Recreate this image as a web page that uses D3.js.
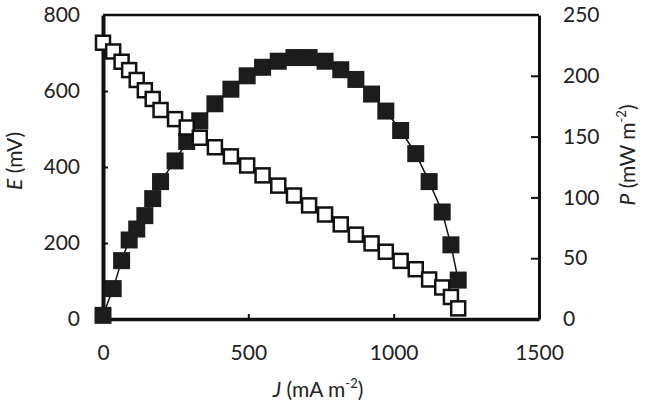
<!DOCTYPE html>
<html>
<head>
<meta charset="utf-8">
<script src="https://cdn.jsdelivr.net/npm/d3@7"></script>
<style>
  body { margin: 0; background: #fff; }
  text { font-family: Lato, "Open Sans", sans-serif; fill: #222; }
</style>
</head>
<body>
<svg id="chart" width="648" height="409"></svg>
<script>
// current density J (mA m-2)
const currentDensity = [0, 35, 64, 90, 116, 144, 171, 198, 248, 288, 333, 385, 440, 496, 549,
  603, 657, 709, 764, 818, 870, 924, 973, 1024, 1076, 1122, 1167, 1197, 1222];
// cell voltage E (mV), open squares
const voltage = [727, 704, 677, 655, 629, 602, 579, 550, 526, 504, 477, 452, 428, 404, 378,
  351, 325, 299, 275, 249, 222, 199, 177, 153, 131, 104, 83, 58, 28];
// power density P (mW m-2), filled squares
const power = [3, 25, 48, 65, 74, 85, 99, 113, 130, 146, 163, 177, 189, 200, 207,
  212, 215, 215, 212, 205, 197, 185, 171, 155, 136, 113, 88, 61, 32];

const xTicks = [0, 500, 1000, 1500];
const eTicks = [0, 200, 400, 600, 800];
const pTicks = [0, 50, 100, 150, 200, 250];

const svg = d3.select("#chart"),
  margin = { top: 15, right: 109, bottom: 90, left: 103 },
  width = +svg.attr("width") - margin.left - margin.right,
  height = +svg.attr("height") - margin.top - margin.bottom;

const g = svg.append("g").attr("transform", `translate(${margin.left},${margin.top})`);

const x = d3.scaleLinear().domain([0, 1500]).range([0, width]);
const yE = d3.scaleLinear().domain([0, 800]).range([height, 0]);
const yP = d3.scaleLinear().domain([0, 250]).range([height, 0]);

const data = currentDensity.map((j, i) => ({ j: j, e: voltage[i], p: power[i] }));

// top frame line
g.append("line")
  .attr("x1", 0).attr("x2", width).attr("y1", 0).attr("y2", 0)
  .attr("stroke", "#111").attr("stroke-width", 2.5);

// axes with inward ticks
function styleAxis(sel, w) {
  sel.select(".domain").attr("stroke", "#111").attr("stroke-width", w);
  sel.selectAll(".tick line").attr("stroke", "#111").attr("stroke-width", 2);
  sel.selectAll(".tick text").style("font-size", "21px").attr("fill", "#222");
}

g.append("g")
  .attr("transform", `translate(0,${height})`)
  .call(d3.axisBottom(x).tickValues(xTicks).tickFormat(d3.format("d"))
    .tickSizeInner(-5).tickSizeOuter(0).tickPadding(26))
  .call(styleAxis, 3.5)
  .call((a) => a.selectAll(".tick").filter((d) => d === 0).select("line").remove());

g.append("g")
  .call(d3.axisLeft(yE).tickValues(eTicks).tickFormat(d3.format("d"))
    .tickSizeInner(-5).tickSizeOuter(0).tickPadding(23))
  .call(styleAxis, 4)
  .call((a) => a.selectAll(".tick").filter((d) => d === 0 || d === 800).select("line").remove());

g.append("g")
  .attr("transform", `translate(${width},0)`)
  .call(d3.axisRight(yP).tickValues(pTicks).tickFormat(d3.format("d"))
    .tickSizeInner(-8).tickSizeOuter(0).tickPadding(24))
  .call(styleAxis, 3)
  .call((a) => a.selectAll(".tick").filter((d) => d === 0 || d === 250).select("line").remove());

// connecting lines
const lineE = d3.line().x((d) => x(d.j)).y((d) => yE(d.e));
const lineP = d3.line().x((d) => x(d.j)).y((d) => yP(d.p));

g.append("path").datum(data).attr("d", lineP)
  .attr("fill", "none").attr("stroke", "#111").attr("stroke-width", 1.5);
g.append("path").datum(data).attr("d", lineE)
  .attr("fill", "none").attr("stroke", "#111").attr("stroke-width", 1.5);

// power markers (filled)
const fs = 17;
g.selectAll(".p-pt").data(data).join("rect")
  .attr("class", "p-pt")
  .attr("x", (d) => x(d.j) - fs / 2)
  .attr("y", (d) => yP(d.p) - fs / 2)
  .attr("width", fs).attr("height", fs)
  .attr("fill", "#1c1c1c");

// voltage markers (open)
const os = 14;
g.selectAll(".e-pt").data(data).join("rect")
  .attr("class", "e-pt")
  .attr("x", (d) => x(d.j) - os / 2)
  .attr("y", (d) => yE(d.e) - os / 2)
  .attr("width", os).attr("height", os)
  .attr("fill", "#fff").attr("stroke", "#111").attr("stroke-width", 2.5);

// axis titles
const xt = svg.append("text")
  .attr("x", 318).attr("y", 397)
  .attr("text-anchor", "middle").style("font-size", "21px");
xt.append("tspan").style("font-style", "italic").text("J");
xt.append("tspan").text(" (mA m");
xt.append("tspan").attr("dy", -9).style("font-size", "13px").text("-2");
xt.append("tspan").attr("dy", 9).text(")");

const et = svg.append("text")
  .attr("transform", "translate(22,161) rotate(-90)")
  .attr("text-anchor", "middle").style("font-size", "21px");
et.append("tspan").style("font-style", "italic").text("E");
et.append("tspan").text(" (mV)");

const pt = svg.append("text")
  .attr("transform", "translate(635,155) rotate(-90)")
  .attr("text-anchor", "middle").style("font-size", "21px");
pt.append("tspan").style("font-style", "italic").text("P");
pt.append("tspan").text(" (mW m");
pt.append("tspan").attr("dy", -9).style("font-size", "13px").text("-2");
pt.append("tspan").attr("dy", 9).text(")");
</script>
</body>
</html>
